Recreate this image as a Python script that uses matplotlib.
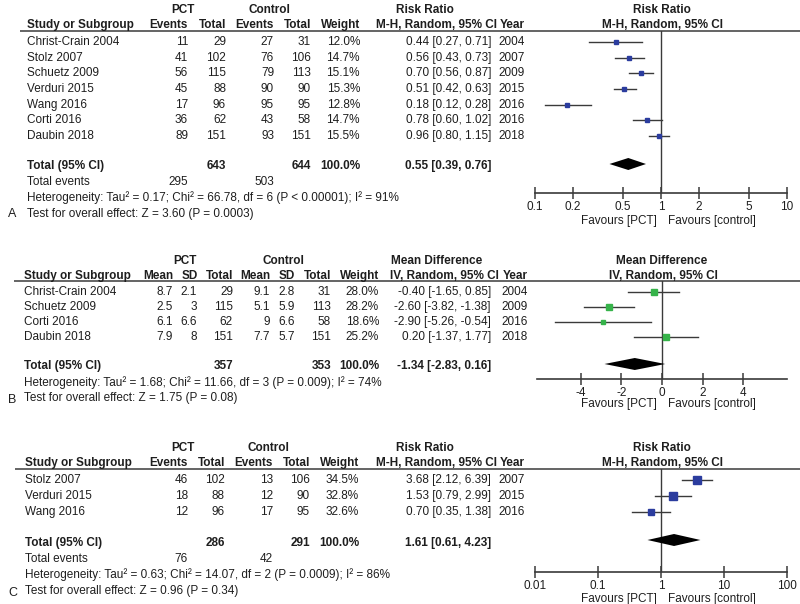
"""
Three-panel forest plot (RevMan style): PCT-guided therapy vs control.
A – mortality-type risk ratio, B – mean difference, C – risk ratio.
"""

import matplotlib
matplotlib.use("Agg")
import matplotlib.pyplot as plt
from matplotlib.ticker import NullLocator

plt.rcParams["font.family"] = ["Liberation Sans", "DejaVu Sans"]

# ── Panel A data ──────────────────────────────────────────────────────────────
studies_a = ["Christ-Crain 2004", "Stolz 2007", "Schuetz 2009", "Verduri 2015",
             "Wang 2016", "Corti 2016", "Daubin 2018"]
pct_events_a = [11, 41, 56, 45, 17, 36, 89]
pct_total_a = [29, 102, 115, 88, 96, 62, 151]
ctl_events_a = [27, 76, 79, 90, 95, 43, 93]
ctl_total_a = [31, 106, 113, 90, 95, 58, 151]
weight_a = [12.0, 14.7, 15.1, 15.3, 12.8, 14.7, 15.5]
rr_a = [0.44, 0.56, 0.70, 0.51, 0.18, 0.78, 0.96]
lo_a = [0.27, 0.43, 0.56, 0.42, 0.12, 0.60, 0.80]
hi_a = [0.71, 0.73, 0.87, 0.63, 0.28, 1.02, 1.15]
year_a = [2004, 2007, 2009, 2015, 2016, 2016, 2018]
totals_a = [643, 644]
events_a = [295, 503]
pooled_a = [0.55, 0.39, 0.76]
het_a = "Heterogeneity: Tau² = 0.17; Chi² = 66.78, df = 6 (P < 0.00001); I² = 91%"
test_a = "Test for overall effect: Z = 3.60 (P = 0.0003)"
ticks_a = [0.1, 0.2, 0.5, 1, 2, 5, 10]
ticklabels_a = ["0.1", "0.2", "0.5", "1", "2", "5", "10"]

# ── Panel B data ──────────────────────────────────────────────────────────────
studies_b = ["Christ-Crain 2004", "Schuetz 2009", "Corti 2016", "Daubin 2018"]
pct_mean_b = [8.7, 2.5, 6.1, 7.9]
pct_sd_b = [2.1, 3, 6.6, 8]
pct_n_b = [29, 115, 62, 151]
ctl_mean_b = [9.1, 5.1, 9, 7.7]
ctl_sd_b = [2.8, 5.9, 6.6, 5.7]
ctl_n_b = [31, 113, 58, 151]
weight_b = [28.0, 28.2, 18.6, 25.2]
md_b = [-0.40, -2.60, -2.90, 0.20]
lo_b = [-1.65, -3.82, -5.26, -1.37]
hi_b = [0.85, -1.38, -0.54, 1.77]
year_b = [2004, 2009, 2016, 2018]
totals_b = [357, 353]
pooled_b = [-1.34, -2.83, 0.16]
het_b = "Heterogeneity: Tau² = 1.68; Chi² = 11.66, df = 3 (P = 0.009); I² = 74%"
test_b = "Test for overall effect: Z = 1.75 (P = 0.08)"
ticks_b = [-4, -2, 0, 2, 4]
ticklabels_b = ["-4", "-2", "0", "2", "4"]

# ── Panel C data ──────────────────────────────────────────────────────────────
studies_c = ["Stolz 2007", "Verduri 2015", "Wang 2016"]
pct_events_c = [46, 18, 12]
pct_total_c = [102, 88, 96]
ctl_events_c = [13, 12, 17]
ctl_total_c = [106, 90, 95]
weight_c = [34.5, 32.8, 32.6]
rr_c = [3.68, 1.53, 0.70]
lo_c = [2.12, 0.79, 0.35]
hi_c = [6.39, 2.99, 1.38]
year_c = [2007, 2015, 2016]
totals_c = [286, 291]
events_c = [76, 42]
pooled_c = [1.61, 0.61, 4.23]
het_c = "Heterogeneity: Tau² = 0.63; Chi² = 14.07, df = 2 (P = 0.0009); I² = 86%"
test_c = "Test for overall effect: Z = 0.96 (P = 0.34)"
ticks_c = [0.01, 0.1, 1, 10, 100]
ticklabels_c = ["0.01", "0.1", "1", "10", "100"]

# ── Styling ───────────────────────────────────────────────────────────────────
W, H = 800, 604
FS = 8.45
INK = "#1e1e1e"
LINE = "#3a3a3a"
BLUE = "#2b3c9e"
GREEN = "#36b34a"

fig = plt.figure(figsize=(W / 100, H / 100), dpi=100, facecolor="white")
bg = fig.add_axes([0, 0, 1, 1])
bg.set_xlim(0, W)
bg.set_ylim(H, 0)
bg.axis("off")


def txt(x, y, s, ha="left", bold=False, size=FS):
    bg.text(x, y, s, ha=ha, va="center", fontsize=size, color=INK,
            fontweight="bold" if bold else "normal")


def hline(x0, x1, y):
    bg.plot([x0, x1], [y, y], color=LINE, lw=1.1, solid_capstyle="butt")


def sq_size(w):
    # square edge in points, grows with study weight
    return (1.47 + 0.169 * w) / 1.389


def forest_axes(x0, x1, y_top, y_axis, xlim, log, ticks, labels, null):
    ax = fig.add_axes([x0 / W, 1 - y_axis / H, (x1 - x0) / W, (y_axis - y_top) / H])
    if log:
        ax.set_xscale("log")
    ax.set_xlim(*xlim)
    ax.set_ylim(y_axis, y_top)
    ax.patch.set_alpha(0)
    for s in ("top", "right", "left"):
        ax.spines[s].set_visible(False)
    ax.spines["bottom"].set_linewidth(1.2)
    ax.spines["bottom"].set_color(LINE)
    ax.set_yticks([])
    ax.set_xticks(ticks)
    ax.set_xticklabels(labels)
    ax.xaxis.set_minor_locator(NullLocator())
    ax.tick_params(axis="x", direction="inout", length=8, width=1.1, labelsize=FS,
                   pad=2, colors=LINE, labelcolor=INK)
    ax.axvline(null, color=LINE, lw=1.0)
    return ax


def draw_forest(ax, ys, est, lo, hi, weights, color, pooled, y_pool):
    for y, e, l, h, w in zip(ys, est, lo, hi, weights):
        ax.plot([l, h], [y, y], color=LINE, lw=1.0, zorder=2)
        ax.plot(e, y, marker="s", ms=sq_size(w), color=color, mec=color, zorder=3)
    e, l, h = pooled
    ax.fill([l, e, h, e], [y_pool, y_pool - 6, y_pool, y_pool + 6],
            color="black", lw=0, zorder=3)


def favours(y):
    txt(657, y, "Favours [PCT]", "right")
    txt(668, y, "Favours [control]", "left")


# ── Panel A ───────────────────────────────────────────────────────────────────
txt(183, 10, "PCT", "center", True)
txt(269, 10, "Control", "center", True)
txt(425, 10, "Risk Ratio", "center", True)
txt(662, 10, "Risk Ratio", "center", True)
txt(27, 25, "Study or Subgroup", bold=True)
for x, s in zip([188, 226, 274, 311, 360], ["Events", "Total", "Events", "Total", "Weight"]):
    txt(x, 25, s, "right", True)
txt(497, 25, "M-H, Random, 95% CI", "right", True)
txt(525, 25, "Year", "right", True)
txt(663, 25, "M-H, Random, 95% CI", "center", True)
hline(20, W, 31)

rows_a = [42 + 15.67 * i for i in range(len(studies_a))]
for i, y in enumerate(rows_a):
    txt(27, y, studies_a[i])
    txt(188, y, str(pct_events_a[i]), "right")
    txt(226, y, str(pct_total_a[i]), "right")
    txt(274, y, str(ctl_events_a[i]), "right")
    txt(311, y, str(ctl_total_a[i]), "right")
    txt(360, y, f"{weight_a[i]:.1f}%", "right")
    txt(491, y, f"{rr_a[i]:.2f} [{lo_a[i]:.2f}, {hi_a[i]:.2f}]", "right")
    txt(525, y, str(year_a[i]), "right")

txt(27, 166, "Total (95% CI)", bold=True)
txt(226, 166, str(totals_a[0]), "right", True)
txt(311, 166, str(totals_a[1]), "right", True)
txt(360, 166, "100.0%", "right", True)
txt(491, 166, f"{pooled_a[0]:.2f} [{pooled_a[1]:.2f}, {pooled_a[2]:.2f}]", "right", True)
txt(27, 182, "Total events")
txt(188, 182, str(events_a[0]), "right")
txt(274, 182, str(events_a[1]), "right")
txt(27, 198, het_a)
txt(27, 214, test_a)
txt(8, 214, "A", size=9)

ax_a = forest_axes(535, 787, 31, 193, (0.1, 10), True, ticks_a, ticklabels_a, 1)
draw_forest(ax_a, rows_a, rr_a, lo_a, hi_a, weight_a, BLUE, pooled_a, 164)
favours(221)

# ── Panel B ───────────────────────────────────────────────────────────────────
txt(185, 261, "PCT", "center", True)
txt(283, 261, "Control", "center", True)
txt(437, 261, "Mean Difference", "center", True)
txt(662, 261, "Mean Difference", "center", True)
txt(24, 276, "Study or Subgroup", bold=True)
for x, s in zip([173, 198, 233, 270, 295, 331, 379],
                ["Mean", "SD", "Total", "Mean", "SD", "Total", "Weight"]):
    txt(x, 276, s, "right", True)
txt(499, 276, "IV, Random, 95% CI", "right", True)
txt(528, 276, "Year", "right", True)
txt(663, 276, "IV, Random, 95% CI", "center", True)
hline(14, W, 281)

rows_b = [292 + 15.1 * i for i in range(len(studies_b))]
for i, y in enumerate(rows_b):
    txt(24, y, studies_b[i])
    txt(173, y, f"{pct_mean_b[i]:g}", "right")
    txt(197, y, f"{pct_sd_b[i]:g}", "right")
    txt(233, y, str(pct_n_b[i]), "right")
    txt(270, y, f"{ctl_mean_b[i]:g}", "right")
    txt(295, y, f"{ctl_sd_b[i]:g}", "right")
    txt(331, y, str(ctl_n_b[i]), "right")
    txt(379, y, f"{weight_b[i]:.1f}%", "right")
    txt(491, y, f"{md_b[i]:.2f} [{lo_b[i]:.2f}, {hi_b[i]:.2f}]", "right")
    txt(528, y, str(year_b[i]), "right")

txt(24, 366, "Total (95% CI)", bold=True)
txt(233, 366, str(totals_b[0]), "right", True)
txt(331, 366, str(totals_b[1]), "right", True)
txt(379, 366, "100.0%", "right", True)
txt(491, 366, f"{pooled_b[0]:.2f} [{pooled_b[1]:.2f}, {pooled_b[2]:.2f}]", "right", True)
txt(24, 383, het_b)
txt(24, 398, test_b)
txt(8, 400, "B", size=9)

ax_b = forest_axes(537, 787, 281, 379, (-6.15, 6.15), False, ticks_b, ticklabels_b, 0)
draw_forest(ax_b, rows_b, md_b, lo_b, hi_b, weight_b, GREEN, pooled_b, 364)
favours(404)

# ── Panel C ───────────────────────────────────────────────────────────────────
txt(183, 448, "PCT", "center", True)
txt(268, 448, "Control", "center", True)
txt(425, 448, "Risk Ratio", "center", True)
txt(662, 448, "Risk Ratio", "center", True)
txt(25, 463, "Study or Subgroup", bold=True)
for x, s in zip([188, 225, 273, 310, 359], ["Events", "Total", "Events", "Total", "Weight"]):
    txt(x, 463, s, "right", True)
txt(497, 463, "M-H, Random, 95% CI", "right", True)
txt(525, 463, "Year", "right", True)
txt(663, 463, "M-H, Random, 95% CI", "center", True)
hline(15, W, 469)

rows_c = [480 + 16 * i for i in range(len(studies_c))]
for i, y in enumerate(rows_c):
    txt(25, y, studies_c[i])
    txt(188, y, str(pct_events_c[i]), "right")
    txt(225, y, str(pct_total_c[i]), "right")
    txt(273, y, str(ctl_events_c[i]), "right")
    txt(310, y, str(ctl_total_c[i]), "right")
    txt(359, y, f"{weight_c[i]:.1f}%", "right")
    txt(491, y, f"{rr_c[i]:.2f} [{lo_c[i]:.2f}, {hi_c[i]:.2f}]", "right")
    txt(525, y, str(year_c[i]), "right")

txt(25, 543, "Total (95% CI)", bold=True)
txt(225, 543, str(totals_c[0]), "right", True)
txt(310, 543, str(totals_c[1]), "right", True)
txt(359, 543, "100.0%", "right", True)
txt(491, 543, f"{pooled_c[0]:.2f} [{pooled_c[1]:.2f}, {pooled_c[2]:.2f}]", "right", True)
txt(25, 559, "Total events")
txt(188, 559, str(events_c[0]), "right")
txt(273, 559, str(events_c[1]), "right")
txt(25, 575, het_c)
txt(25, 591, test_c)
txt(8, 593, "C", size=9)

ax_c = forest_axes(535, 787, 469, 572, (0.01, 100), True, ticks_c, ticklabels_c, 1)
draw_forest(ax_c, rows_c, rr_c, lo_c, hi_c, weight_c, BLUE, pooled_c, 540)
favours(599)

fig.savefig("out.png", dpi=100, facecolor="white")
